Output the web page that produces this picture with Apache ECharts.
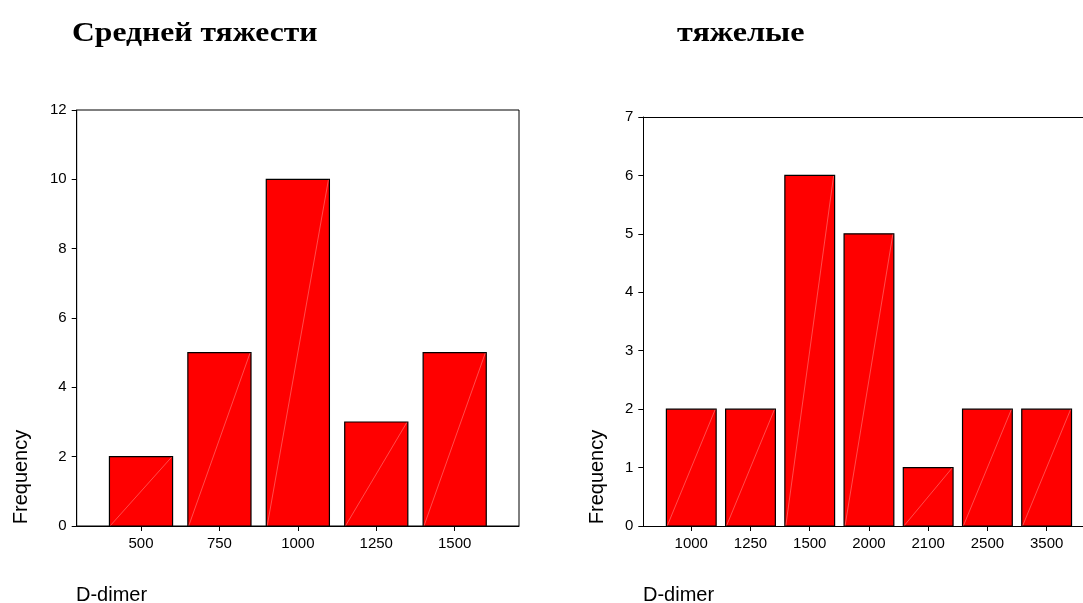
<!DOCTYPE html>
<html>
<head>
<meta charset="utf-8">
<script src="https://cdn.jsdelivr.net/npm/echarts@6/dist/echarts.min.js"></script>
<style>
html,body{margin:0;padding:0;background:#fff;}
#main{width:1083px;height:603px;}
</style>
</head>
<body>
<div id="main"></div>
<script>
// ---- data ----
const leftTitle = 'Средней тяжести';
const rightTitle = 'тяжелые';
const leftCategories = ['500', '750', '1000', '1250', '1500'];
const leftFrequency = [2, 5, 10, 3, 5];
const rightCategories = ['1000', '1250', '1500', '2000', '2100', '2500', '3500'];
const rightFrequency = [2, 2, 6, 5, 1, 2, 2];
const yName = 'Frequency';
const xName = 'D-dimer';

const FONT = '"Liberation Sans", Arial, sans-serif';
const SERIF = '"Liberation Serif", "Times New Roman", serif';

function makeRender(frac) {
  return function (params, api) {
    const x = api.value(0), y = api.value(1);
    const p0 = api.coord([x, 0]);
    const p1 = api.coord([x, y]);
    const w = api.size([frac, 0])[0];
    const x0 = p0[0] - w / 2;
    return {
      type: 'group',
      children: [
        { type: 'rect', shape: { x: x0, y: p1[1], width: w, height: p0[1] - p1[1] },
          style: { fill: '#ff0000', stroke: '#000', lineWidth: 1.2 } },
        { type: 'line', shape: { x1: x0 + 1, y1: p0[1] - 0.5, x2: x0 + w - 1, y2: p1[1] + 0.5 },
          style: { stroke: 'rgba(255,170,170,0.75)', lineWidth: 0.6 } }
      ]
    };
  };
}

function idx(n) { return Array.from({ length: n }, (_, i) => i); }

function xAxisFor(cats, gridIndex, min, max) {
  return {
    type: 'value', gridIndex: gridIndex, min: min, max: max,
    splitLine: { show: false },
    axisLine: { show: true, onZero: false, lineStyle: { color: '#000', width: 1 } },
    axisTick: { show: true, length: 5, customValues: idx(cats.length), lineStyle: { color: '#000' } },
    axisLabel: { customValues: idx(cats.length), color: '#000', fontSize: 15, fontFamily: FONT, margin: 10,
      formatter: function (v) { return cats[Math.round(v)]; } }
  };
}
function topLine(gridIndex, min, max) {
  return {
    type: 'value', gridIndex: gridIndex, position: 'top', min: min, max: max,
    splitLine: { show: false },
    axisLine: { show: true, onZero: false, lineStyle: { color: '#000', width: 1 } },
    axisTick: { show: false }, axisLabel: { show: false }
  };
}
function yAxisFor(max, interval, gridIndex) {
  return {
    type: 'value', gridIndex: gridIndex, min: 0, max: max, interval: interval,
    splitLine: { show: false },
    axisLine: { show: true, onZero: false, lineStyle: { color: '#000', width: 1 } },
    axisTick: { show: true, length: 5, lineStyle: { color: '#000' } },
    axisLabel: { color: '#000', fontSize: 15, fontFamily: FONT, margin: 10 }
  };
}

const chart = echarts.init(document.getElementById('main'), null, { renderer: 'canvas' });
chart.setOption({
  backgroundColor: '#fff',
  animation: false,
  grid: [
    { left: 76.7, top: 110, width: 442.3, height: 416, show: true, borderColor: '#000', borderWidth: 1, backgroundColor: 'transparent' },
    { left: 643.3, top: 117, width: 441, height: 409, show: false }
  ],
  xAxis: [
    xAxisFor(leftCategories, 0, -0.82, 4.82),
    xAxisFor(rightCategories, 1, -0.81, 6.614),
    topLine(1, -0.81, 6.614)
  ],
  yAxis: [yAxisFor(12, 2, 0), yAxisFor(7, 1, 1)],
  series: [
    { type: 'custom', xAxisIndex: 0, yAxisIndex: 0, renderItem: makeRender(0.805),
      data: leftFrequency.map((v, i) => [i, v]) },
    { type: 'custom', xAxisIndex: 1, yAxisIndex: 1, renderItem: makeRender(0.84),
      data: rightFrequency.map((v, i) => [i, v]) }
  ],
  graphic: [
    { type: 'text', x: 72, y: 34, scaleX: 1.13,
      style: { text: leftTitle, font: 'bold 28px ' + SERIF, fill: '#000', align: 'left', verticalAlign: 'middle' } },
    { type: 'text', x: 677, y: 34, scaleX: 1.15,
      style: { text: rightTitle, font: 'bold 28px ' + SERIF, fill: '#000', align: 'left', verticalAlign: 'middle' } },
    { type: 'text', x: 21.7, y: 477, rotation: Math.PI / 2,
      style: { text: yName, font: '20px ' + FONT, fill: '#000', align: 'center', verticalAlign: 'middle' } },
    { type: 'text', x: 597, y: 477, rotation: Math.PI / 2,
      style: { text: yName, font: '20px ' + FONT, fill: '#000', align: 'center', verticalAlign: 'middle' } },
    { type: 'text', x: 76, y: 595, style: { text: xName, font: '20px ' + FONT, fill: '#000', align: 'left', verticalAlign: 'middle' } },
    { type: 'text', x: 643, y: 595, style: { text: xName, font: '20px ' + FONT, fill: '#000', align: 'left', verticalAlign: 'middle' } }
  ]
});
</script>
</body>
</html>
